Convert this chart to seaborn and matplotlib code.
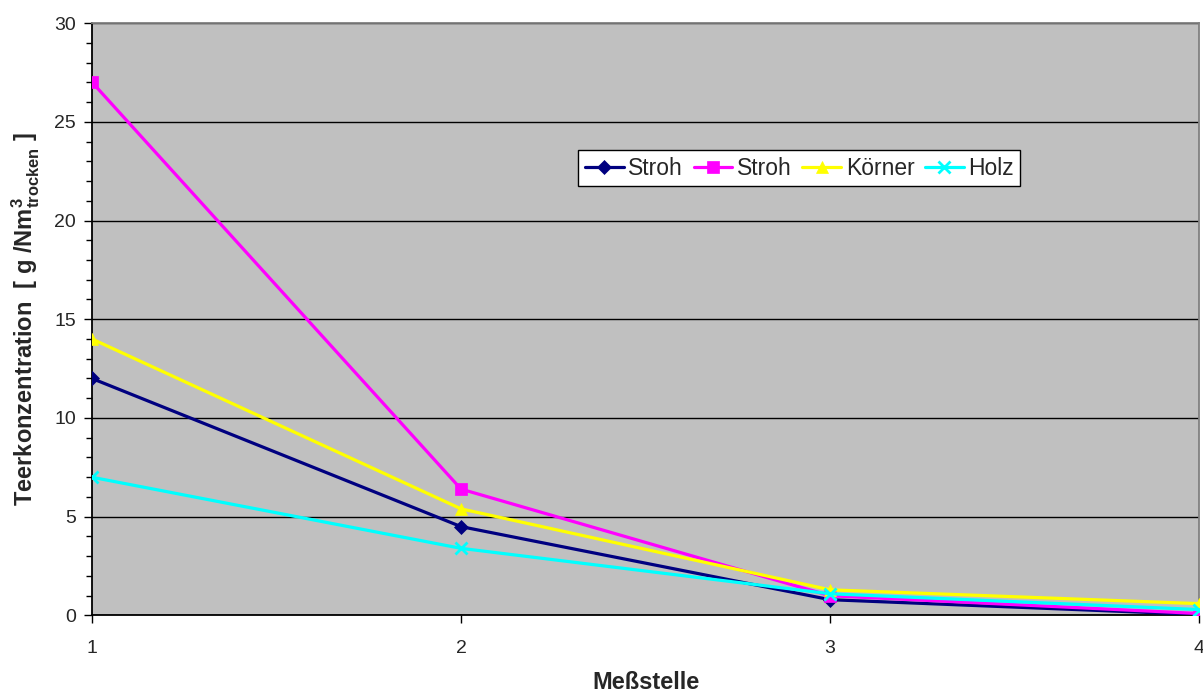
import matplotlib
matplotlib.use("Agg")
import matplotlib.pyplot as plt
from matplotlib.ticker import MultipleLocator
import seaborn as sns
import pandas as pd

# Measurement points and tar concentrations per fuel
messstellen = [1, 2, 3, 4]
stroh_a = [12.0, 4.5, 0.8, 0.05]
stroh_b = [27.0, 6.4, 1.0, 0.1]
koerner = [14.0, 5.4, 1.3, 0.6]
holz = [7.0, 3.4, 1.1, 0.3]

series_names = ["Stroh", "Stroh", "Körner", "Holz"]
series_values = [stroh_a, stroh_b, koerner, holz]
series_colors = ["#000080", "#FF00FF", "#FFFF00", "#00FFFF"]
series_markers = ["D", "s", "^", "x"]
marker_sizes = [7, 8, 9, 9]

sns.set_theme(style="white")
plt.rcParams["font.family"] = ["Liberation Sans", "DejaVu Sans"]
plt.rcParams["mathtext.fontset"] = "custom"
plt.rcParams["mathtext.bf"] = "Liberation Sans:bold"
plt.rcParams["mathtext.rm"] = "Liberation Sans:bold"

fig = plt.figure(figsize=(12.03, 6.95), dpi=100)
ax = fig.add_axes([0.0765, 0.1144, 0.9202, 0.8525])
ax.set_facecolor("#C0C0C0")

for name, vals, col, mk, ms in zip(series_names, series_values, series_colors,
                                   series_markers, marker_sizes):
    df = pd.DataFrame({"x": messstellen, "y": vals})
    sns.lineplot(data=df, x="x", y="y", ax=ax, color=col, linewidth=2.3,
                 marker=mk, markersize=ms, markeredgecolor=col,
                 markeredgewidth=2 if mk == "x" else 0.5, label=name,
                 zorder=3)

ax.set_xlim(1, 4)
ax.set_ylim(0, 30)
ax.set_xticks(messstellen)
ax.yaxis.set_major_locator(MultipleLocator(5))
ax.yaxis.set_minor_locator(MultipleLocator(1))
ax.grid(axis="y", which="major", color="black", linewidth=1.0, zorder=1)
ax.set_axisbelow(True)

ax.tick_params(axis="both", which="major", direction="out", length=5.5,
               width=1, color="black", labelsize=14, pad=6,
               left=True, bottom=True)
ax.tick_params(axis="x", which="major", pad=12)
ax.tick_params(axis="y", which="minor", direction="out", length=4.5,
               width=1, color="black", left=True)

for side in ["left", "bottom"]:
    ax.spines[side].set_color("black")
    ax.spines[side].set_linewidth(1.3)
for side in ["top", "right"]:
    ax.spines[side].set_color("#808080")
    ax.spines[side].set_linewidth(1.3)

ax.set_xlabel("Meßstelle", fontsize=17, fontweight="bold", labelpad=10)
ax.set_ylabel(r"Teerkonzentration  [ g /Nm$^{\mathbf{3}}_{\mathbf{trocken}}$ ]",
              fontsize=17, fontweight="bold", labelpad=9)

leg = ax.legend(loc="center", bbox_to_anchor=(0.639, 0.755), ncol=4,
                fontsize=16.5, frameon=True, fancybox=False, framealpha=1,
                edgecolor="black", handlelength=1.7, handletextpad=0.2,
                columnspacing=0.45, borderpad=0.28, borderaxespad=0)
leg.get_frame().set_linewidth(1.0)

fig.savefig("out.png", dpi=100)
